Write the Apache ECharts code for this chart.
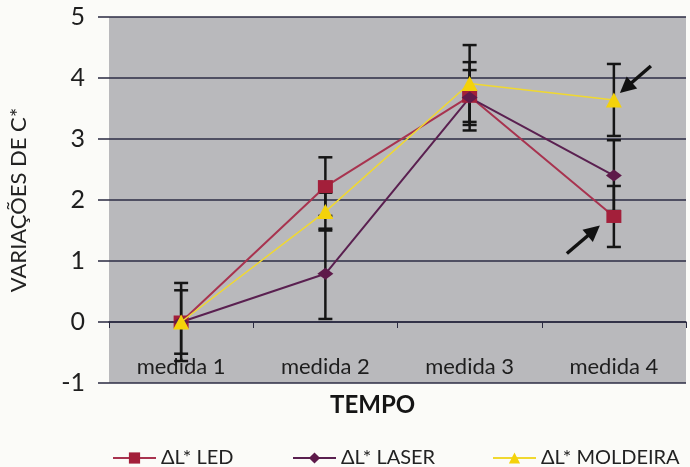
<!DOCTYPE html>
<html><head><meta charset="utf-8">
<script src="https://cdn.jsdelivr.net/npm/echarts@6/dist/echarts.min.js"></script>
<style>html,body{margin:0;padding:0;background:#fbfbf8;}#c{width:690px;height:467px;}</style>
</head><body><div id="c"></div>
<script>
const categories = ['medida 1', 'medida 2', 'medida 3', 'medida 4'];
const ledValues = [0, 2.22, 3.70, 1.73];
const ledErrors = [0.64, 0.48, 0.56, 0.50];
const laserValues = [0, 0.79, 3.68, 2.40];
const laserErrors = [0.52, 0.74, 0.45, 0.58];
const moldeiraValues = [0, 1.81, 3.91, 3.64];
const moldeiraErrors = [0, 0.31, 0.63, 0.59];
const yTicks = [-1, 0, 1, 2, 3, 4, 5];
const seriesNames = ['ΔL* LED', 'ΔL* LASER', 'ΔL* MOLDEIRA'];

const FONT = 'Lato, "DejaVu Sans", sans-serif';
const chart = echarts.init(document.getElementById('c'));

function errData(vals, errs) {
  return vals.map((v, i) => [i, v - errs[i], v + errs[i]]);
}
function errSeries(vals, errs) {
  return {
    type: 'custom', z: 1, silent: true,
    data: errData(vals, errs),
    renderItem: function (params, api) {
      const x = api.value(0);
      const lo = api.coord([x, api.value(1)]);
      const hi = api.coord([x, api.value(2)]);
      const w = 7;
      const st = {stroke: '#151515', lineWidth: 2.5};
      return {type: 'group', children: [
        {type: 'line', shape: {x1: lo[0], y1: lo[1], x2: hi[0], y2: hi[1]}, style: st},
        {type: 'line', shape: {x1: lo[0] - w, y1: lo[1], x2: lo[0] + w, y2: lo[1]}, style: st},
        {type: 'line', shape: {x1: hi[0] - w, y1: hi[1], x2: hi[0] + w, y2: hi[1]}, style: st}
      ]};
    }
  };
}

const colors = ['#a31f3a', '#5e1a4a', '#f4d20a'];
const lineColors = ['#a8334f', '#5a2050', '#f0d830'];

const option = {
  backgroundColor: '#fbfbf8',
  animation: false,
  grid: {left: 107, right: 4, top: 17, bottom: 84, show: true, backgroundColor: '#b9b9bc', borderWidth: 0},
  xAxis: {
    type: 'category', data: categories, boundaryGap: true,
    axisLine: {show: true, onZero: true, lineStyle: {color: '#2a2a40', width: 1.5}},
    axisTick: {show: true, inside: false, length: 6, lineStyle: {color: '#2a2a40'}},
    axisLabel: {margin: -27, fontSize: 22, color: '#1e1e1e', fontFamily: FONT},
    splitLine: {show: false}
  },
  yAxis: {
    type: 'value', min: -1, max: 5, interval: 1,
    name: 'VARIAÇÕES DE C*', nameLocation: 'middle', nameGap: 79, nameRotate: 90,
    nameTextStyle: {fontSize: 22, color: '#222', fontFamily: FONT},
    axisLine: {show: false},
    axisTick: {show: true, length: 11, lineStyle: {color: '#2a2a40', width: 1.5}},
    axisLabel: {margin: 24, fontSize: 25, color: '#1e1e1e', fontFamily: FONT,
      formatter: v => yTicks.includes(v) ? String(v) : ''},
    splitLine: {show: true, lineStyle: {color: '#2d2d45', width: 1.5}}
  },
  legend: [0, 1, 2].map((i) => ({
    data: [seriesNames[i]], left: [107, 287, 487][i], top: 443,
    itemWidth: 43, itemHeight: 14, itemGap: 10,
    textStyle: {fontSize: 20, color: '#222', fontFamily: FONT}
  })),
  series: [
    errSeries(ledValues, ledErrors),
    errSeries(laserValues, laserErrors),
    errSeries(moldeiraValues, moldeiraErrors),
    {name: seriesNames[0], type: 'line', z: 3, data: ledValues, symbol: 'rect', symbolSize: [15, 13],
      lineStyle: {color: lineColors[0], width: 2}, itemStyle: {color: colors[0]}},
    {name: seriesNames[1], type: 'line', z: 3, data: laserValues, symbol: 'diamond', symbolSize: [16, 12],
      lineStyle: {color: lineColors[1], width: 2}, itemStyle: {color: colors[1]}},
    {name: seriesNames[2], type: 'line', z: 4, data: moldeiraValues, symbol: 'triangle', symbolSize: [16, 15],
      lineStyle: {color: lineColors[2], width: 1.5}, itemStyle: {color: colors[2]}}
  ]
};
chart.setOption(option);

// annotation arrows pointing to medida 4 points
const pTri = chart.convertToPixel({gridIndex: 0}, [3, moldeiraValues[3]]);
const pSq = chart.convertToPixel({gridIndex: 0}, [3, ledValues[3]]);
function arrow(from, to) {
  const dx = to[0] - from[0], dy = to[1] - from[1];
  const L = Math.hypot(dx, dy), ux = dx / L, uy = dy / L;
  const hl = 16, hw = 8;
  const bx = to[0] - ux * hl, by = to[1] - uy * hl;
  return [
    {type: 'line', z: 10, shape: {x1: from[0], y1: from[1], x2: bx + ux * 2, y2: by + uy * 2}, style: {stroke: '#111', lineWidth: 3.5}},
    {type: 'polygon', z: 10, shape: {points: [to, [bx - uy * hw, by + ux * hw], [bx + uy * hw, by - ux * hw]]}, style: {fill: '#111'}}
  ];
}
chart.setOption({graphic: [
  {type: 'text', left: 330, top: 393, style: {text: 'TEMPO', fontSize: 24, fontWeight: 'bold', fill: '#151515', fontFamily: FONT}},
  ...arrow([pTri[0] + 37, pTri[1] - 34], [pTri[0] + 6, pTri[1] - 7]),
  ...arrow([pSq[0] - 47, pSq[1] + 37], [pSq[0] - 14, pSq[1] + 9])
]});
</script></body></html>
